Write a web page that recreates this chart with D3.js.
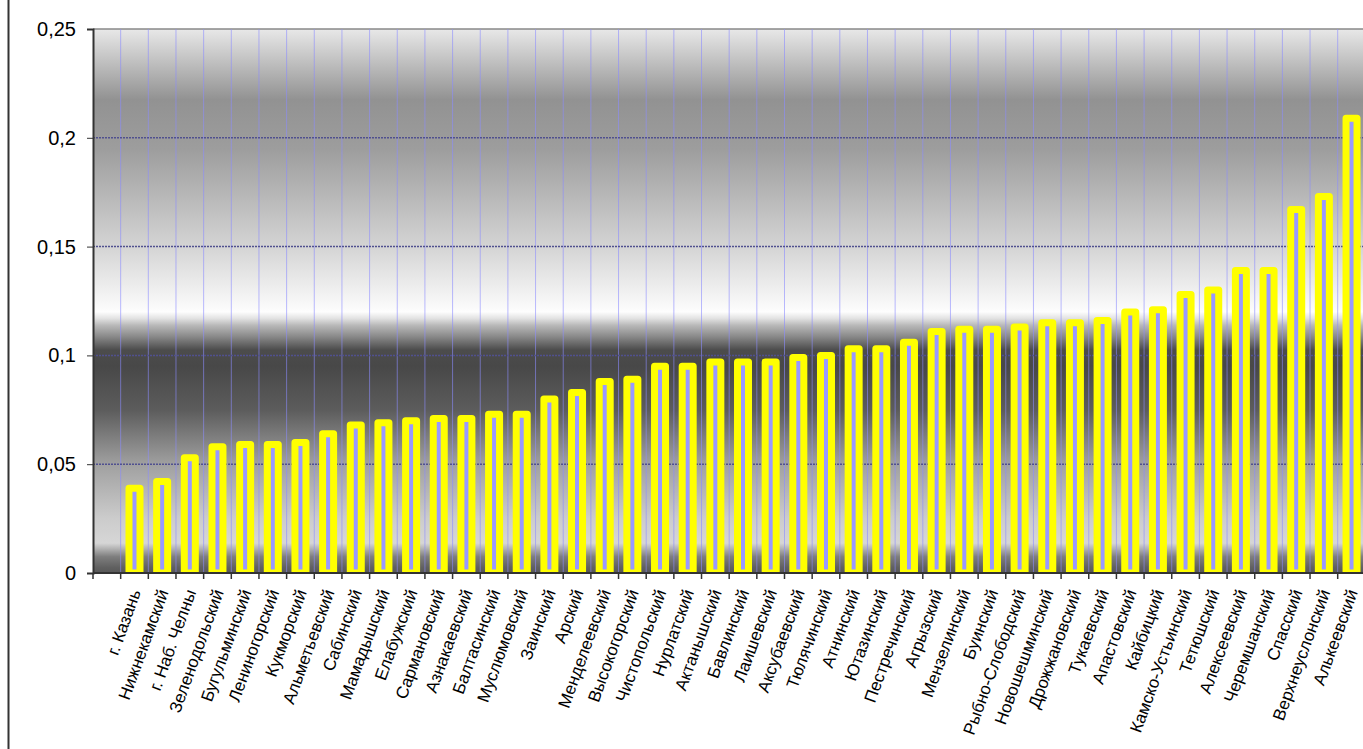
<!DOCTYPE html>
<html>
<head>
<meta charset="utf-8">
<script src="https://cdn.jsdelivr.net/npm/d3@7"></script>
<style>
  body { margin: 0; background: #ffffff; }
  svg text { font-family: Arial, "Liberation Sans", sans-serif; fill: #000; }
</style>
</head>
<body>
<div id="chart"></div>
<script>
var width = 1363;
var height = 749;

// first slot is empty in the original chart
var districts = [
  "", "г. Казань", "Нижнекамский", "г. Наб. Челны", "Зеленодольский", "Бугульминский",
  "Лениногорский", "Кукморский", "Альметьевский", "Сабинский", "Мамадышский",
  "Елабужский", "Сармановский", "Азнакаевский", "Балтасинский", "Муслюмовский",
  "Заинский", "Арский", "Менделеевский", "Высокогорский", "Чистопольский",
  "Нурлатский", "Актанышский", "Бавлинский", "Лаишевский", "Аксубаевский",
  "Тюлячинский", "Атнинский", "Ютазинский", "Пестречинский", "Агрызский",
  "Мензелинский", "Буинский", "Рыбно-Слободский", "Новошешминский", "Дрожжановский",
  "Тукаевский", "Апастовский", "Кайбицкий", "Камско-Устьинский", "Тетюшский",
  "Алексеевский", "Черемшанский", "Спасский", "Верхнеуслонский", "Алькеевский"
];

var values = [
  null, 0.039, 0.042, 0.053, 0.058, 0.059,
  0.059, 0.060, 0.064, 0.068, 0.069,
  0.070, 0.071, 0.071, 0.073, 0.073,
  0.080, 0.083, 0.088, 0.089, 0.095,
  0.095, 0.097, 0.097, 0.097, 0.099,
  0.100, 0.103, 0.103, 0.106, 0.111,
  0.112, 0.112, 0.113, 0.115, 0.115,
  0.116, 0.120, 0.121, 0.128, 0.130,
  0.139, 0.139, 0.167, 0.173, 0.209
];

var yTicks = [0, 0.05, 0.1, 0.15, 0.2, 0.25];

var plot = { left: 93, top: 29, bottom: 573, step: 27.66 };

var svg = d3.select("#chart")
  .append("svg")
  .attr("width", width)
  .attr("height", height);

var xScale = d3.scaleBand()
  .domain(districts.map((d, i) => i))
  .range([plot.left, plot.left + districts.length * plot.step]);

var yScale = d3.scaleLinear()
  .domain([0, 0.25])
  .range([plot.bottom, plot.top]);

var plotRight = xScale.range()[1];

var defs = svg.append("defs");

// background gradient of the plot area (grey bands as in the original)
var grad = defs.append("linearGradient")
  .attr("id", "bg")
  .attr("gradientUnits", "userSpaceOnUse")
  .attr("x1", 0).attr("x2", 0)
  .attr("y1", yScale(0.25)).attr("y2", yScale(0));

var stops = [
  [0, "#e8e8e8"], [0.13, "#929292"], [0.22, "#9d9d9d"], [0.40, "#d4d4d4"],
  [0.52, "#fdfdfd"], [0.532, "#e2e2e2"], [0.545, "#b8b8b8"], [0.565, "#8a8a8a"],
  [0.59, "#4c4c4c"], [0.62, "#484848"], [0.70, "#5c5c5c"], [0.80, "#a0a0a0"],
  [0.90, "#cccccc"], [0.945, "#d6d6d6"], [0.955, "#b4b4b4"], [0.97, "#7e7e7e"],
  [0.99, "#606060"], [1, "#585858"]
];
grad.selectAll("stop").data(stops).enter()
  .append("stop")
  .attr("offset", d => d[0])
  .attr("stop-color", d => d[1]);

defs.append("clipPath")
  .attr("id", "plotClip")
  .append("rect")
  .attr("x", plot.left)
  .attr("y", 0)
  .attr("width", plotRight - plot.left)
  .attr("height", plot.bottom);

svg.append("rect")
  .attr("x", plot.left)
  .attr("y", plot.top)
  .attr("width", plotRight - plot.left)
  .attr("height", plot.bottom - plot.top)
  .attr("fill", "url(#bg)");

// outer frame line on the left
svg.append("line")
  .attr("x1", 8.5).attr("x2", 8.5)
  .attr("y1", 0).attr("y2", height)
  .attr("stroke", "#333")
  .attr("stroke-width", 2);

// top border of plot area
svg.append("line")
  .attr("x1", plot.left).attr("x2", plotRight)
  .attr("y1", plot.top).attr("y2", plot.top)
  .attr("stroke", "#888")
  .attr("stroke-width", 1.5);

// vertical gridlines at category boundaries
var bounds = districts.map((d, i) => xScale(i)).concat([plotRight]);

svg.append("g")
  .selectAll("line")
  .data(bounds.slice(1))
  .enter()
  .append("line")
  .attr("x1", d => d).attr("x2", d => d)
  .attr("y1", plot.top).attr("y2", plot.bottom)
  .attr("stroke", "#8c8cff")
  .attr("stroke-opacity", 0.6)
  .attr("stroke-width", 1);

// horizontal gridlines
svg.append("g")
  .selectAll("line")
  .data(yTicks.slice(1, -1))
  .enter()
  .append("line")
  .attr("x1", plot.left).attr("x2", plotRight)
  .attr("y1", d => yScale(d)).attr("y2", d => yScale(d))
  .attr("stroke", "#50508f")
  .attr("stroke-width", 1.5)
  .attr("stroke-dasharray", "2,1");

// bars
var barW = 11;
svg.append("g")
  .attr("clip-path", "url(#plotClip)")
  .selectAll("rect")
  .data(values.map((v, i) => ({ i: i, v: v })).filter(d => d.v !== null))
  .enter()
  .append("rect")
  .attr("x", d => xScale(d.i) + xScale.bandwidth() / 2 - barW / 2)
  .attr("y", d => yScale(d.v))
  .attr("width", barW)
  .attr("height", d => yScale(0) - yScale(d.v))
  .attr("fill", "#9999ff")
  .attr("stroke", "#ffff00")
  .attr("stroke-width", 7)
  .attr("stroke-linejoin", "round");

// y axis
var yAxis = d3.axisLeft(yScale)
  .tickValues(yTicks)
  .tickSize(6)
  .tickPadding(11)
  .tickFormat(d => String(d).replace(".", ","));

var yG = svg.append("g")
  .attr("transform", "translate(" + plot.left + ",0)")
  .call(yAxis);
yG.select(".domain").attr("stroke", "#333").attr("stroke-width", 2);
yG.selectAll(".tick line").attr("stroke", "#333");
yG.selectAll("text")
  .style("font-size", "20px")
  .attr("fill", "#000");

// x axis line and boundary ticks
svg.append("line")
  .attr("x1", plot.left).attr("x2", plotRight)
  .attr("y1", plot.bottom).attr("y2", plot.bottom)
  .attr("stroke", "#333")
  .attr("stroke-width", 2);

svg.append("g")
  .selectAll("line")
  .data(bounds)
  .enter()
  .append("line")
  .attr("x1", d => d).attr("x2", d => d)
  .attr("y1", plot.bottom).attr("y2", plot.bottom + 6)
  .attr("stroke", "#333")
  .attr("stroke-width", 1.5);

// rotated district labels
svg.append("g")
  .selectAll("text")
  .data(districts.map((d, i) => ({ i: i, name: d })).filter(d => d.name !== ""))
  .enter()
  .append("text")
  .text(d => d.name)
  .attr("transform", d => "translate(" + (xScale(d.i) + xScale.bandwidth() / 2 + 1) + "," + (plot.bottom + 17) + ") rotate(-70)")
  .attr("dy", "0.35em")
  .style("text-anchor", "end")
  .style("font-size", "17px");
</script>
</body>
</html>
